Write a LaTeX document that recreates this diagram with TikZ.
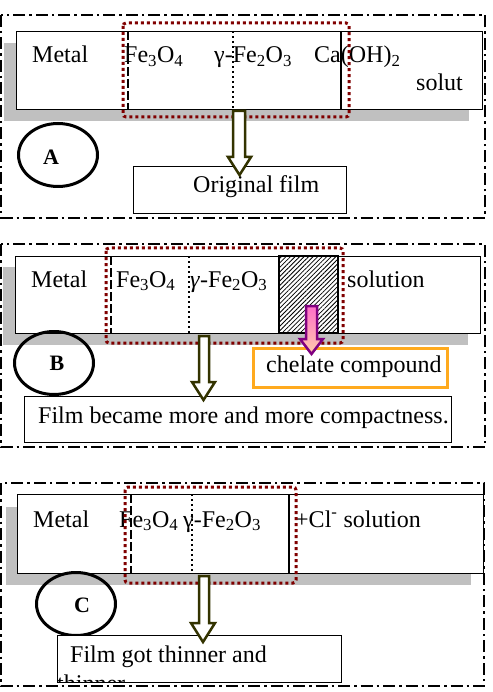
\documentclass[tikz,border=0pt]{standalone}
\usepackage{fontspec}
\setmainfont{Liberation Serif}
\usetikzlibrary{shapes.geometric,patterns.meta}
\definecolor{olivedk}{RGB}{51,51,0}
\definecolor{redot}{RGB}{128,0,0}
\definecolor{grayshadow}{RGB}{192,192,192}
\definecolor{orangeb}{RGB}{255,170,30}
\definecolor{purpleb}{RGB}{128,0,128}
\definecolor{pinkt}{RGB}{255,110,200}
\definecolor{pinkb}{RGB}{255,205,170}
\begin{document}
\begin{tikzpicture}[x=1pt,y=-1pt,
  frame/.style={line width=2.5pt, dash pattern=on 12pt off 4pt on 2.5pt off 4pt},
  shadowbox/.style={fill=grayshadow, draw=none},
  layer/.style={draw, line width=1.3pt, fill=white, inner sep=0pt, anchor=north west},
  redbox/.style={draw=redot, line width=3pt, dash pattern=on 3pt off 3pt, rounded corners=3pt},
  dashv/.style={line width=2.5pt, dash pattern=on 9pt off 3pt},
  dotv/.style={line width=1.8pt, dash pattern=on 1.8pt off 3.2pt},
  solidv/.style={line width=2.5pt},
  txt/.style={inner sep=0pt, anchor=base west, font=\fontsize{24}{28}\selectfont},
  oval/.style={ellipse, draw, line width=3pt, minimum width=79pt, minimum height=63pt, inner sep=0pt},
  letter/.style={inner sep=0pt, font=\bfseries\fontsize{22}{26}\selectfont},
  tbox/.style={draw, line width=1.3pt, fill=white, inner sep=0pt, anchor=north west},
  obox/.style={draw=orangeb, line width=2.5pt, fill=white, inner sep=0pt, anchor=north west},
  olarrow/.style={draw=olivedk, fill=white, line width=2.5pt, line join=miter},
  purarrow/.style={draw=purpleb, top color=pinkt, bottom color=pinkb, line width=2.5pt, line join=miter}
]
\useasboundingbox (0,0) rectangle (492,692);

%%%%%%%%%%%% Panel A
\draw[frame] (1,15) rectangle (485,218);
\fill[shadowbox] (4,43) rectangle (469,121);
\node[layer, minimum width=466pt, minimum height=78pt] (layA) at (16,31) {};
\draw[dashv] (128,31) -- (128,109);
\draw[dotv] (233,31) -- (233,109);
\draw[solidv] (341,31) -- (341,109);
\node[txt] (metA) at (32,63) {Metal};
\node[txt] (feA) at (124,63) {Fe\textsubscript{3}O\textsubscript{4}};
\node[txt] (gaA) at (214,63) {γ-Fe\textsubscript{2}O\textsubscript{3}};
\node[txt] (caA) at (314,63) {Ca(OH)\textsubscript{2}};
\node[txt] (soA) at (416,91) {solut};
\draw[redbox] (123,23) rectangle (349,117);
\node[oval] (ellA) at (58,155) {};
\node[letter] (labA) at (51,157) {A};
\node[tbox, minimum width=213pt, minimum height=47pt] (boxA) at (133,166) {};
\node[txt] (orA) at (193,193) {Original film};
\draw[olarrow] (233,111) -- (233,157) -- (228,157) -- (239.5,175) -- (251,157) -- (245,157) -- (245,111) -- cycle;

%%%%%%%%%%%% Panel B
\draw[frame] (1,244) rectangle (485,447);
\fill[shadowbox] (3,267) rectangle (468,345);
\node[layer, minimum width=465pt, minimum height=77pt] (layB) at (15,256) {};
\draw[dashv] (111,256) -- (111,333);
\draw[dotv] (189,256) -- (189,333);
\draw[line width=2.5pt, pattern={Lines[angle=45,distance=3.2pt,line width=0.8pt]}] (279,256) rectangle (338,333);
\node[txt] (metB) at (31,287) {Metal};
\node[txt] (feB) at (116,287) {Fe\textsubscript{3}O\textsubscript{4}};
\node[txt] (gaB) at (190,287) {\textit{γ}-Fe\textsubscript{2}O\textsubscript{3}};
\node[txt] (soB) at (347,287) {solution};
\draw[redbox] (106,248) rectangle (343,343);
\node[oval] (ellB) at (54,363) {};
\node[letter] (labB) at (57,363) {B};
\node[obox, minimum width=194pt, minimum height=39pt] (boxCh) at (252,347) {};
\node[txt] (chB) at (266,372) {chelate compound};
\node[tbox, minimum width=427pt, minimum height=46pt] (boxB) at (24,396) {};
\node[txt] (fiB) at (38,423) {Film became more and more compactness.};
\draw[olarrow] (199,336) -- (199,382) -- (192,382) -- (203.5,400) -- (215,382) -- (209,382) -- (209,336) -- cycle;
\draw[purarrow] (306,306) -- (306,339) -- (300,339) -- (311.5,354) -- (323,339) -- (317,339) -- (317,306) -- cycle;

%%%%%%%%%%%% Panel C
\draw[frame] (1,483) rectangle (484,686);
\fill[shadowbox] (6,507) rectangle (471,585);
\node[layer, minimum width=466pt, minimum height=79pt] (layC) at (17,494) {};
\draw[dashv] (131,494) -- (131,573);
\draw[dotv] (192,494) -- (192,573);
\draw[solidv] (289,494) -- (289,573);
\node[txt] (metC) at (33,527) {Metal};
\node[txt] (feC) at (119,527) {Fe\textsubscript{3}O\textsubscript{4}};
\node[txt] (gaC) at (183,527) {γ-Fe\textsubscript{2}O\textsubscript{3}};
\node[txt] (clC) at (295,527) {+Cl\textsuperscript{-} solution};
\draw[redbox] (125,487) rectangle (296,583);
\node[oval] (ellC) at (76,604) {};
\node[letter] (labC) at (82,605) {C};
\node[tbox, minimum width=284pt, minimum height=47pt] (boxC) at (57,635) {};
\node[txt] (fiC) at (70,662) {Film got thinner and};
\begin{scope}
\clip (57,635) rectangle (341,682);
\node[txt] (fiC2) at (57,691) {thinner};
\end{scope}
\draw[olarrow] (199,576) -- (199,623) -- (191,623) -- (203,642) -- (215,623) -- (209,623) -- (209,576) -- cycle;
\end{tikzpicture}
\end{document}
